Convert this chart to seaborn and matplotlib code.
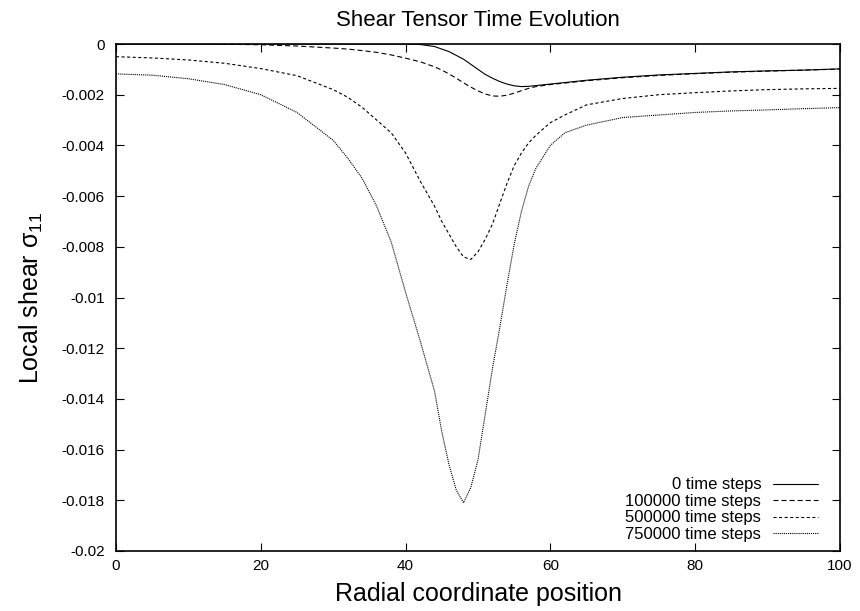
import matplotlib
matplotlib.use("Agg")
import matplotlib.pyplot as plt
from matplotlib.ticker import FuncFormatter, MultipleLocator
import seaborn as sns

# ---- data ----
radial_position = [0, 5, 10, 15, 20, 25, 30, 32, 34, 36, 38, 40, 42, 44, 45, 46, 47, 48, 49,
                   50, 51, 52, 53, 54, 55, 56, 57, 58, 60, 62, 65, 70, 75, 80, 85, 90, 95, 100]

shear_0 = [0, 0, 0, 0, 0, 0, 0, 0, 0, 0, 0, 0, -0.00002, -0.0001, -0.0002, -0.0003, -0.00045,
           -0.0006, -0.0008, -0.001, -0.0012, -0.00135, -0.00148, -0.00158, -0.00165, -0.00168,
           -0.00167, -0.00164, -0.00158, -0.00152, -0.00143, -0.00131, -0.00122, -0.00116,
           -0.0011, -0.00106, -0.00103, -0.00098]

shear_100000 = [0, 0, 0, -0.00001, -0.00003, -0.00008, -0.00016, -0.0002, -0.00026, -0.00033,
                -0.00043, -0.00056, -0.0007, -0.0009, -0.00103, -0.00118, -0.00135, -0.00153,
                -0.0017, -0.00185, -0.00197, -0.00205, -0.00206, -0.00202, -0.00194, -0.00184,
                -0.00175, -0.00168, -0.0016, -0.00154, -0.00145, -0.00133, -0.00124, -0.00117,
                -0.00111, -0.00107, -0.00103, -0.00099]

shear_500000 = [-0.0005, -0.00055, -0.00063, -0.00076, -0.00097, -0.00125, -0.0018, -0.0021,
                -0.0025, -0.003, -0.0035, -0.0043, -0.0054, -0.0064, -0.007, -0.0075, -0.008,
                -0.0084, -0.0085, -0.0082, -0.0077, -0.0071, -0.0063, -0.0055, -0.0048, -0.0043,
                -0.0039, -0.0036, -0.0031, -0.0028, -0.0024, -0.00215, -0.002, -0.00192,
                -0.00185, -0.0018, -0.00177, -0.00175]

shear_750000 = [-0.00118, -0.00123, -0.00137, -0.0016, -0.002, -0.0027, -0.0038, -0.0045, -0.0053,
                -0.0064, -0.0078, -0.0098, -0.0117, -0.0137, -0.0153, -0.0166, -0.0176, -0.0181,
                -0.0175, -0.0164, -0.0146, -0.0128, -0.0112, -0.0095, -0.0079, -0.0066, -0.0056,
                -0.0049, -0.004, -0.0035, -0.0032, -0.0029, -0.0028, -0.0027, -0.00264, -0.0026,
                -0.00255, -0.00251]

series_labels = ["0 time steps", "100000 time steps", "500000 time steps", "750000 time steps"]
x_ticks = [0, 20, 40, 60, 80, 100]

# ---- style ----
sns.set_theme(style="white")
plt.rcParams["font.family"] = ["Liberation Sans", "DejaVu Sans"]
plt.rcParams["mathtext.fontset"] = "custom"
plt.rcParams["mathtext.rm"] = "Liberation Sans"
plt.rcParams["mathtext.default"] = "regular"
plt.rcParams["lines.scale_dashes"] = False

fig = plt.figure(figsize=(8.6, 6.11), dpi=100)
ax = fig.add_axes([116 / 860, 1 - 551 / 611, (840 - 116) / 860, (551 - 44) / 611])

styles = ["-", (0, (3.6, 2.2)), (0, (2.2, 1.8)), (0, (0.8, 0.7))]
all_series = [shear_0, shear_100000, shear_500000, shear_750000]
for ys, lab, ls in zip(all_series, series_labels, styles):
    sns.lineplot(x=radial_position, y=ys, ax=ax, color="black", linewidth=0.8,
                 linestyle=ls, label=lab, errorbar=None)

ax.set_xlim(0, 100)
ax.set_ylim(-0.02, 0)
ax.set_xticks(x_ticks)
ax.yaxis.set_major_locator(MultipleLocator(0.002))
ax.yaxis.set_major_formatter(FuncFormatter(lambda v, p: "%g" % round(v, 6)))
ax.xaxis.set_major_formatter(FuncFormatter(lambda v, p: "%g" % v))

for s in ax.spines.values():
    s.set_visible(True)
    s.set_color("black")
    s.set_linewidth(1.2)
ax.tick_params(direction="in", length=6, width=0.8, colors="black",
               top=True, right=True, bottom=True, left=True, labelsize=11)
ax.tick_params(axis="x", pad=6)
ax.tick_params(axis="y", pad=8)

ax.set_title("Shear Tensor Time Evolution", fontsize=16, pad=13, color="black")
ax.set_xlabel("Radial coordinate position", fontsize=18, labelpad=6, color="black")
ax.set_ylabel("Local shear σ$_{11}$", fontsize=18, labelpad=12, color="black")

leg = ax.legend(loc="lower right", bbox_to_anchor=(0.9765, 0.008), frameon=False,
                markerfirst=False, fontsize=12, handlelength=2.7, handletextpad=0.7,
                labelspacing=0.09, borderaxespad=0.0, borderpad=0.3)
for t in leg.get_texts():
    t.set_color("black")

fig.savefig("out.png", dpi=100)
